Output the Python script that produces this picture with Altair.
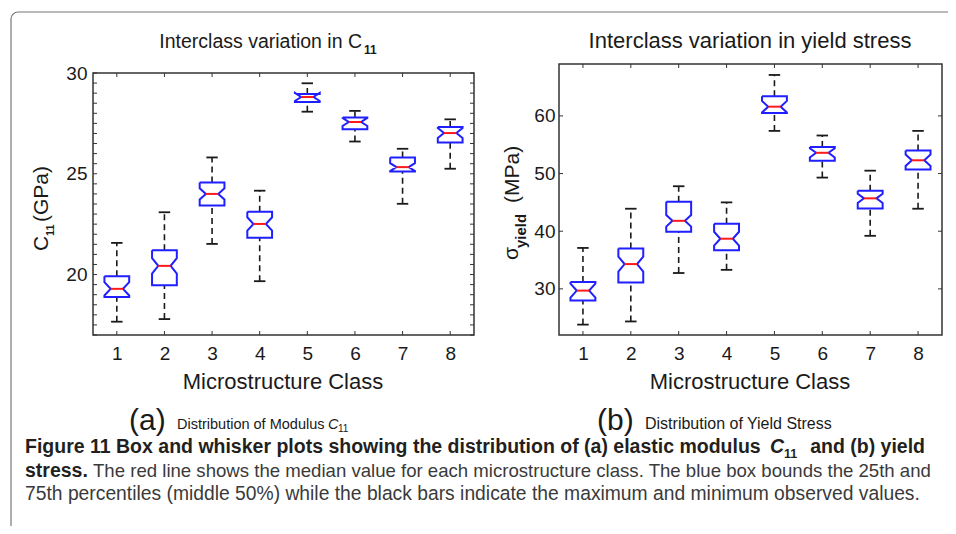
import altair as alt
import pandas as pd

# ---------------- data ----------------
classes = [1, 2, 3, 4, 5, 6, 7, 8]

c11_min = [17.66, 17.79, 21.52, 19.67, 28.08, 26.60, 23.51, 25.25]
c11_q1 = [18.88, 19.47, 23.42, 21.82, 28.56, 27.21, 25.11, 26.55]
c11_med = [19.29, 20.43, 24.00, 22.51, 28.81, 27.57, 25.33, 27.02]
c11_q3 = [19.92, 21.20, 24.57, 23.12, 28.96, 27.79, 25.81, 27.32]
c11_max = [21.57, 23.09, 25.81, 24.16, 29.49, 28.12, 26.24, 27.70]
c11_notch = [0.33, 0.38, 0.28, 0.33, 0.20, 0.20, 0.20, 0.25]

ys_min = [23.8, 24.35, 32.75, 33.3, 57.4, 49.3, 39.2, 43.9]
ys_q1 = [28.0, 31.1, 39.9, 36.7, 60.5, 52.2, 43.95, 50.7]
ys_med = [29.7, 34.3, 41.8, 38.7, 61.6, 53.6, 45.7, 52.3]
ys_q3 = [31.2, 37.0, 45.1, 41.3, 63.4, 54.6, 47.0, 54.0]
ys_max = [37.1, 43.9, 47.8, 45.0, 67.1, 56.6, 50.5, 57.4]
ys_notch = [1.2, 1.3, 1.0, 1.2, 1.0, 0.8, 0.8, 1.0]

c11_ticks = [20, 25, 30]
c11_minor = [17 + 0.5 * i for i in range(27)]
ys_ticks = [30, 40, 50, 60]

# ---------------- layout / style ----------------
W, H = 940, 518
AX_BOTTOM = 327
FONT = "'Liberation Sans', Arial, Helvetica, sans-serif"
CAPFONT = FONT
BOX_HW, NOTCH_HW, CAP_HW = 0.26, 0.13, 0.12
BLUE, RED, INK, FRAME = "#1f1fff", "#ff1a1a", "#1a1a1a", "#333333"


def panel(mins, q1s, meds, q3s, maxs, notch, ydom, xrange, yrange, yticks, yminor, lab_pad):
    xdom = [0.5, 8.5]
    sx = alt.Scale(domain=xdom, range=xrange, nice=False, zero=False)
    sy = alt.Scale(domain=ydom, range=yrange, nice=False, zero=False)
    ax_x = alt.Axis(values=classes, orient="bottom", offset=AX_BOTTOM - H, ticks=False,
                    domain=False, grid=False, title=None, labelFontSize=19, labelFont=FONT,
                    labelColor=INK, labelPadding=9, format="d", labelFlush=False)
    ax_y = alt.Axis(values=yticks, orient="left", offset=-xrange[0], ticks=False,
                    domain=False, grid=False, title=None, labelFontSize=19, labelFont=FONT,
                    labelColor=INK, labelPadding=lab_pad, format="d", labelFlush=False)

    def X(f):
        return alt.X(f, type="quantitative", scale=sx, axis=ax_x)

    def X2(f):
        return alt.X2(f)

    def Y(f):
        return alt.Y(f, type="quantitative", scale=sy, axis=ax_y)

    def Y2(f):
        return alt.Y2(f)

    stats = pd.DataFrame({"c": classes, "lo": mins, "q1": q1s, "med": meds,
                          "q3": q3s, "hi": maxs})
    stats["cl"] = stats["c"] - CAP_HW
    stats["cr"] = stats["c"] + CAP_HW
    stats["ml"] = stats["c"] - NOTCH_HW
    stats["mr"] = stats["c"] + NOTCH_HW

    rows = []
    for c, a, m, b, n in zip(classes, q1s, meds, q3s, notch):
        pts = [(c - BOX_HW, b), (c + BOX_HW, b), (c + BOX_HW, m + n), (c + NOTCH_HW, m),
               (c + BOX_HW, m - n), (c + BOX_HW, a), (c - BOX_HW, a), (c - BOX_HW, m - n),
               (c - NOTCH_HW, m), (c - BOX_HW, m + n), (c - BOX_HW, b)]
        for k, (px, py) in enumerate(pts):
            rows.append({"c": c, "k": k, "px": px, "py": py})
    poly = pd.DataFrame(rows)

    frame = pd.DataFrame({"x0": [xdom[0]], "x1": [xdom[1]], "y0": [ydom[0]], "y1": [ydom[1]]})
    ytk = pd.DataFrame({"v": yminor, "x0": xdom[0], "x1": xdom[1]})
    xtk = pd.DataFrame({"v": classes, "y0": ydom[0], "y1": ydom[1]})

    base = alt.Chart(stats)
    whisk_up = base.mark_rule(color=INK, strokeWidth=1.6, strokeDash=[6, 4]).encode(
        x=X("c"), y=Y("q3"), y2=Y2("hi"))
    whisk_lo = base.mark_rule(color=INK, strokeWidth=1.6, strokeDash=[6, 4]).encode(
        x=X("c"), y=Y("lo"), y2=Y2("q1"))
    cap_up = base.mark_rule(color=INK, strokeWidth=1.8).encode(
        x=X("cl"), x2=X2("cr"), y=Y("hi"))
    cap_lo = base.mark_rule(color=INK, strokeWidth=1.8).encode(
        x=X("cl"), x2=X2("cr"), y=Y("lo"))
    box = alt.Chart(poly).mark_line(color=BLUE, strokeWidth=2).encode(
        x=X("px"), y=Y("py"), order="k:O", detail="c:N")
    med = base.mark_rule(color=RED, strokeWidth=2).encode(
        x=X("ml"), x2=X2("mr"), y=Y("med"))
    fr = alt.Chart(frame).mark_rect(fillOpacity=0, stroke=FRAME, strokeWidth=1.5).encode(
        x=X("x0"), x2=X2("x1"), y=Y("y0"), y2=Y2("y1"))
    tl = alt.Chart(ytk).mark_rule(color=FRAME, strokeWidth=1, x2Offset=4).encode(
        x=X("x0"), x2=X2("x0"), y=Y("v"))
    tr = alt.Chart(ytk).mark_rule(color=FRAME, strokeWidth=1, x2Offset=-4).encode(
        x=X("x1"), x2=X2("x1"), y=Y("v"))
    tb = alt.Chart(xtk).mark_rule(color=FRAME, strokeWidth=1, y2Offset=-4).encode(
        x=X("v"), y=Y("y0"), y2=Y2("y0"))
    tt = alt.Chart(xtk).mark_rule(color=FRAME, strokeWidth=1, y2Offset=4).encode(
        x=X("v"), y=Y("y1"), y2=Y2("y1"))
    return alt.layer(fr, tl, tr, tb, tt, whisk_up, whisk_lo, cap_up, cap_lo, box, med)


left = panel(c11_min, c11_q1, c11_med, c11_q3, c11_max, c11_notch, [17, 30],
             [85, 466], [327, 65], c11_ticks, c11_minor, 6)
right = panel(ys_min, ys_q1, ys_med, ys_q3, ys_max, ys_notch, [22, 69],
              [551, 934], [327, 56], ys_ticks, ys_ticks, 4)


def txt(s, x, y, size, font=FONT, weight="normal", style="normal", align="left",
        angle=0, color=INK, baseline="alphabetic"):
    d = pd.DataFrame({"t": [s]})
    return alt.Chart(d).mark_text(font=font, fontSize=size, fontWeight=weight, fontStyle=style,
                                  align=align, angle=angle, color=color,
                                  baseline=baseline).encode(
        x=alt.value(x), y=alt.value(y), text="t:N")


CAP_B = "#231f20"
CAP_R = "#3a3a3a"
texts = [
    # panel titles
    txt("Interclass variation in C", 354, 40, 19.5, align="right"),
    txt("11", 356, 46, 12, weight="bold"),
    txt("Interclass variation in yield stress", 742, 40, 22, align="center"),
    # x titles
    txt("Microstructure Class", 275, 381, 22, align="center"),
    txt("Microstructure Class", 742, 381, 22, align="center"),
    # y titles (rotated)
    txt("C", 40, 243, 21, angle=270, align="left"),
    txt("11", 45.5, 228, 11, weight="bold", angle=270, align="left"),
    txt("(GPa)", 40, 214, 21, angle=270, align="left"),
    txt("σ", 510, 252, 21, angle=270, align="left"),
    txt("yield", 518, 240, 15, weight="bold", angle=270, align="left"),
    txt("(MPa)", 510.5, 195, 21, angle=270, align="left"),
    # sub captions
    txt("(a)", 121, 422, 30, font=CAPFONT),
    txt("Distribution of Modulus", 169, 421, 14.5, font=CAPFONT),
    txt("C", 320, 421, 14.5, font=CAPFONT, style="italic"),
    txt("11", 330, 424, 10, font=CAPFONT),
    txt("(b)", 589, 422, 30, font=CAPFONT),
    txt("Distribution of Yield Stress", 637, 421, 16, font=CAPFONT),
    # figure caption
    txt("Figure 11 Box and whisker plots showing the distribution of (a) elastic modulus",
        17, 445, 19.5, font=CAPFONT, weight="bold", color=CAP_B),
    txt("C", 762, 445, 19.5, font=CAPFONT, weight="bold", style="italic", color=CAP_B),
    txt("11", 776, 450, 12.5, font=CAPFONT, weight="bold", color=CAP_B),
    txt("and (b) yield", 917, 445, 19.5, font=CAPFONT, weight="bold", color=CAP_B,
        align="right"),
    txt("stress.", 17, 469, 19.5, font=CAPFONT, weight="bold", color=CAP_B),
    txt("The red line shows the median value for each microstructure class. The blue box bounds the 25th and",
        85, 469, 18.6, font=CAPFONT, color=CAP_R),
    txt("75th percentiles (middle 50%) while the black bars indicate the maximum and minimum observed values.",
        17, 492, 19.3, font=CAPFONT, color=CAP_R),
]

border = alt.Chart(pd.DataFrame({"a": [0]})).mark_rect(
    fillOpacity=0, stroke="#777777", strokeWidth=1.2, cornerRadius=7).encode(
    x=alt.value(3), x2=alt.value(990), y=alt.value(4), y2=alt.value(560))

chart = alt.layer(border, left, right, *texts).resolve_scale(
    x="independent", y="independent").properties(
    width=W, height=H, autosize=alt.AutoSizeParams(type="none"), padding=0
).configure_view(stroke=None)

chart.save("out.html", embed_options={"renderer": "svg", "actions": False})
